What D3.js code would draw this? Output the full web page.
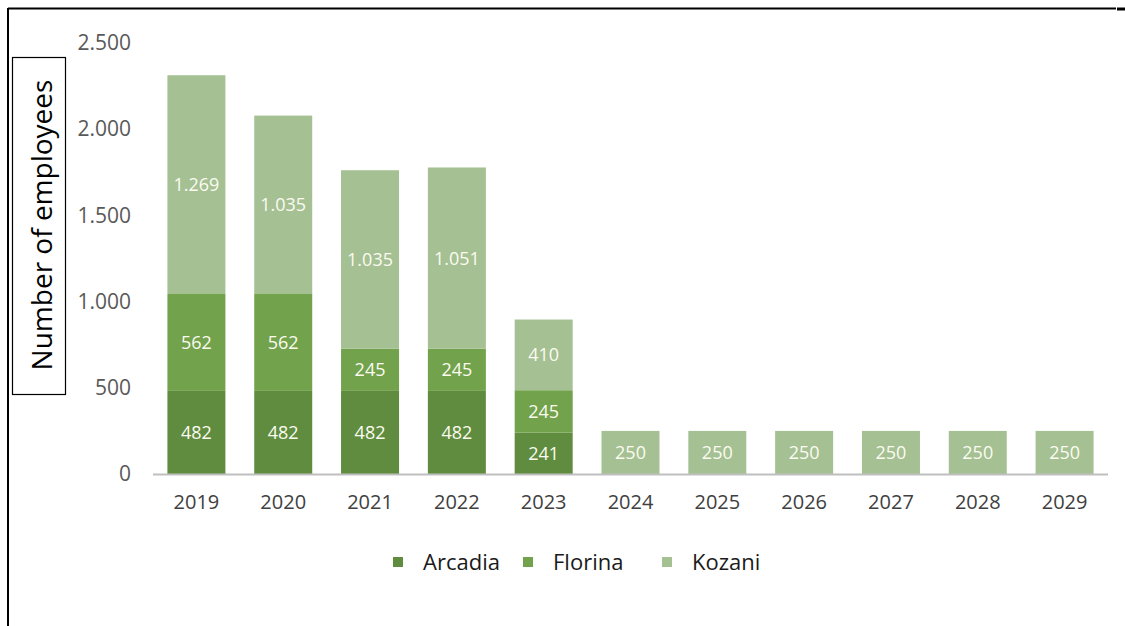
<!DOCTYPE html>
<html>
<head>
<meta charset="utf-8">
<script src="https://cdn.jsdelivr.net/npm/d3@7"></script>
<style>
  body { margin: 0; background: #fff; }
  svg { display: block; font-family: "Open Sans", Lato, sans-serif; }
</style>
</head>
<body>
<svg id="chart" width="1125" height="626"></svg>
<script>
// data
const years = ["2019", "2020", "2021", "2022", "2023", "2024", "2025", "2026", "2027", "2028", "2029"];
const arcadia = [482, 482, 482, 482, 241, 0, 0, 0, 0, 0, 0];
const florina = [562, 562, 245, 245, 245, 0, 0, 0, 0, 0, 0];
const kozani = [1269, 1035, 1035, 1051, 410, 250, 250, 250, 250, 250, 250];
const seriesNames = ["Arcadia", "Florina", "Kozani"];
const yTicks = [0, 500, 1000, 1500, 2000, 2500];

const colors = { Arcadia: "#5f8c3f", Florina: "#72a24c", Kozani: "#a5c093" };

const svg = d3.select("#chart");

// frame lines
svg.append("line").attr("x1", 8).attr("x2", 1116).attr("y1", 8.5).attr("y2", 8.5)
    .attr("stroke", "#000").attr("stroke-width", 2);
svg.append("line").attr("x1", 1117).attr("x2", 1125).attr("y1", 9).attr("y2", 9)
    .attr("stroke", "#000").attr("stroke-width", 3);
svg.append("line").attr("x1", 8).attr("x2", 8).attr("y1", 8).attr("y2", 626)
    .attr("stroke", "#000").attr("stroke-width", 2);

const rows = years.map((y, i) => ({ year: y, Arcadia: arcadia[i], Florina: florina[i], Kozani: kozani[i] }));
const stack = d3.stack().keys(seriesNames)(rows);

const x = d3.scaleBand().domain(years).range([153, 1108]).paddingInner(0.332).paddingOuter(0.166);
const y = d3.scaleLinear().domain([0, 2500]).range([474, 43]);

const fmt = d3.formatLocale({ decimal: ",", thousands: ".", grouping: [3], currency: ["", ""] }).format(",d");

// y tick labels (no axis line)
const yAxis = svg.append("g")
    .attr("transform", "translate(140,0)")
    .call(d3.axisLeft(y).tickValues(yTicks).tickFormat(fmt).tickSize(0).tickPadding(9));
yAxis.select(".domain").remove();
yAxis.selectAll("text")
    .attr("fill", "#595959")
    .style("font-size", "21px")
    .style("font-family", "'Open Sans', Lato, sans-serif");

// bars
const groups = svg.append("g").selectAll("g")
    .data(stack)
    .enter()
    .append("g")
    .attr("fill", d => colors[d.key]);

groups.selectAll("rect")
    .data(d => d.filter(s => s[1] - s[0] > 0))
    .enter()
    .append("rect")
    .attr("x", d => x(d.data.year))
    .attr("y", d => y(d[1]))
    .attr("width", x.bandwidth())
    .attr("height", d => y(d[0]) - y(d[1]));

// data labels
groups.selectAll("text")
    .data(d => d.filter(s => s[1] - s[0] > 0))
    .enter()
    .append("text")
    .attr("x", d => x(d.data.year) + x.bandwidth() / 2)
    .attr("y", d => (y(d[0]) + y(d[1])) / 2)
    .attr("dy", "0.36em")
    .attr("text-anchor", "middle")
    .attr("fill", "#fbfbf0")
    .style("font-size", "18px")
    .text(d => fmt(d[1] - d[0]));

// x axis
const xAxis = svg.append("g")
    .attr("transform", "translate(0,474)")
    .call(d3.axisBottom(x).tickSize(0).tickPadding(21).tickSizeOuter(0));
xAxis.select(".domain").attr("stroke", "#bfbfbf").attr("stroke-width", 2)
    .attr("d", "M153,0.5H1108");
xAxis.selectAll("text")
    .attr("fill", "#404040")
    .style("font-size", "20px")
    .style("font-family", "'Open Sans', Lato, sans-serif");

// y title with box
svg.append("rect").attr("x", 12.5).attr("y", 57.5).attr("width", 53).attr("height", 337)
    .attr("fill", "none").attr("stroke", "#000").attr("stroke-width", 1.2);
svg.append("text")
    .attr("transform", "translate(52,225) rotate(-90)")
    .attr("text-anchor", "middle")
    .attr("fill", "#000")
    .style("font-size", "28px")
    .text("Number of employees");

// legend
const legendX = [393, 523, 662];
const legend = svg.append("g").selectAll("g")
    .data(seriesNames)
    .enter()
    .append("g")
    .attr("transform", (d, i) => `translate(${legendX[i]},557)`);
legend.append("rect").attr("width", 10).attr("height", 10).attr("fill", d => colors[d]);
legend.append("text")
    .attr("x", 30).attr("y", 5).attr("dy", "0.36em")
    .attr("fill", "#1a1a1a")
    .style("font-size", "22px")
    .text(d => d);
</script>
</body>
</html>
